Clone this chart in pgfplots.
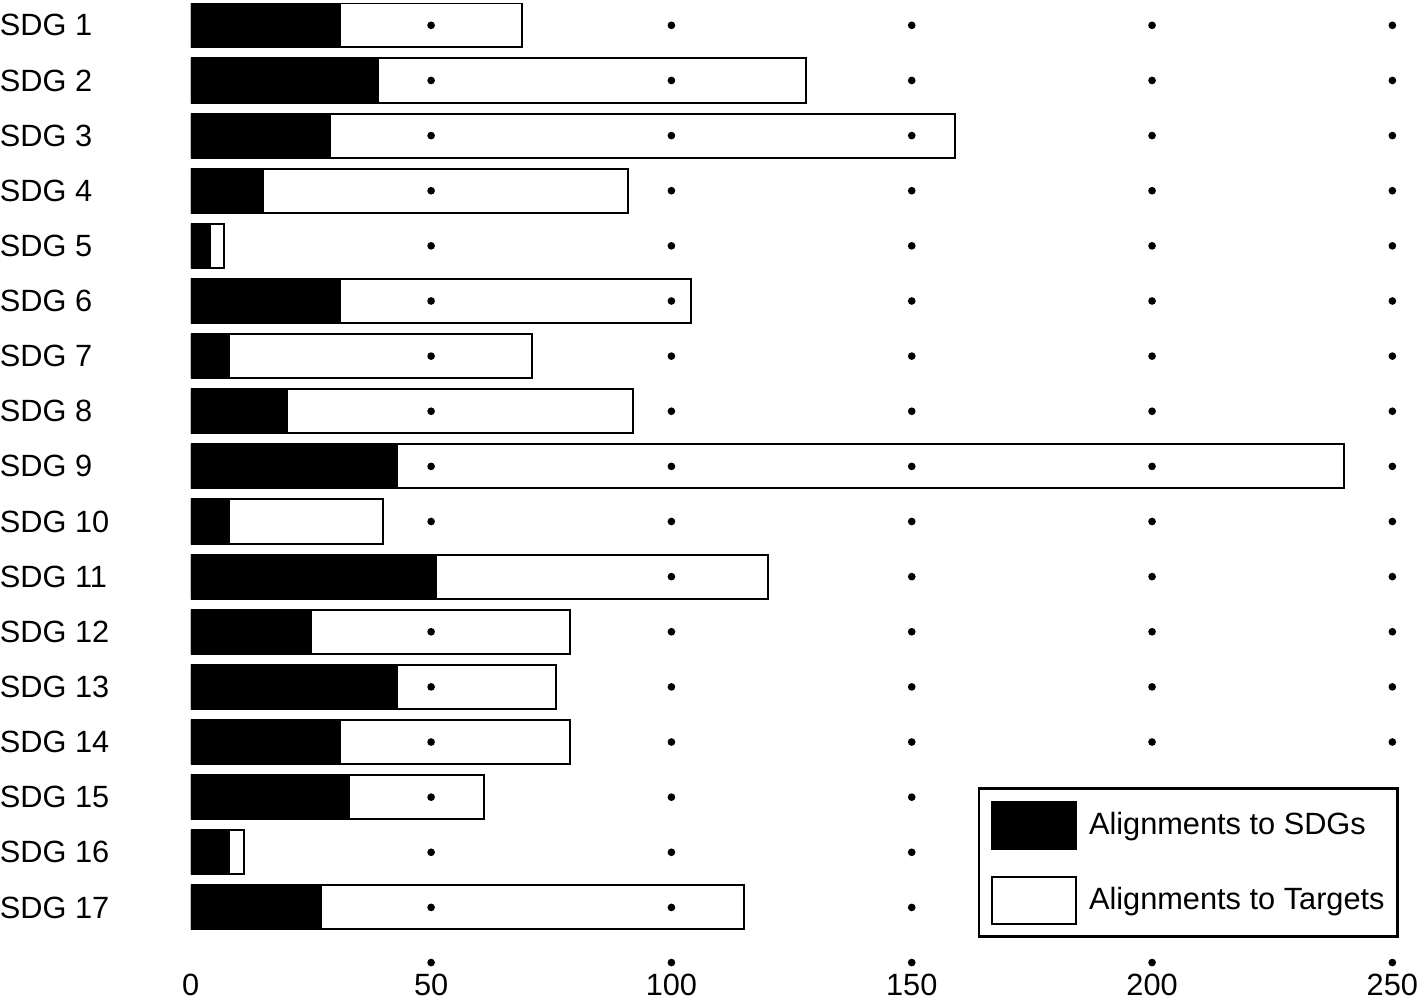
\documentclass[border=0pt]{standalone}
\usepackage{pgfplots}
\pgfplotsset{compat=1.18}
\usepackage{fontspec}
\setmainfont{Liberation Sans}
\begin{document}
\fontsize{9.2}{11}\selectfont
\begin{tikzpicture}
\begin{axis}[
  scale only axis,
  width=362.5pt, height=293.37pt,
  xmin=0, xmax=252,
  ymin=0.61, ymax=18.39,
  y dir=reverse,
  xbar stacked,
  bar width=13.2pt,
  axis line style={draw=none},
  axis on top,
  major tick length=0pt,
  xtick={0,50,100,150,200,250},
  extra x ticks={50,100,150,200,250},
  extra x tick labels={},
  extra x tick style={grid=major, major tick length=0pt},
  grid style={black, line width=2.3pt, line cap=round, dash pattern=on 0pt off 16.5pt, dash phase=10.065pt},
  ytick={1,...,17},
  yticklabels={SDG 1,SDG 2,SDG 3,SDG 4,SDG 5,SDG 6,SDG 7,SDG 8,SDG 9,SDG 10,SDG 11,SDG 12,SDG 13,SDG 14,SDG 15,SDG 16,SDG 17},
  yticklabel style={anchor=west, xshift=-57.3pt, inner sep=0pt, font=\fontsize{9.2}{11}\selectfont},
  xticklabel style={yshift=3.3pt, inner sep=0pt, text depth=1.5pt, font=\fontsize{9.2}{11}\selectfont},
  /pgf/number format/assume math mode=true,
  legend style={at={(1,0)}, anchor=south east, xshift=-1pt, yshift=13.75pt, draw=black, line width=0.8pt,
    inner xsep=1.8pt, inner ysep=3.6pt, row sep=7.9pt, column sep=1.5pt, font=\fontsize{9.2}{11}\selectfont},
  legend cell align=left,
  legend image code/.code={\path (-1.8pt,0pt); \draw[#1, line width=0.6pt] (0pt,-7pt) rectangle (25.2pt,7pt);},
]
\addplot[fill=black, draw=black, line width=0.6pt] coordinates {
(31,1) (39,2) (29,3) (15,4) (4,5) (31,6) (8,7) (20,8) (43,9) (8,10) (51,11) (25,12) (43,13) (31,14) (33,15) (8,16) (27,17)};
\addlegendentry{Alignments to SDGs}
\addplot[fill=white, draw=black, line width=0.6pt] coordinates {
(38,1) (89,2) (130,3) (76,4) (3,5) (73,6) (63,7) (72,8) (197,9) (32,10) (69,11) (54,12) (33,13) (48,14) (28,15) (3,16) (88,17)};
\addlegendentry{Alignments to Targets}
\end{axis}
\end{tikzpicture}
\end{document}
